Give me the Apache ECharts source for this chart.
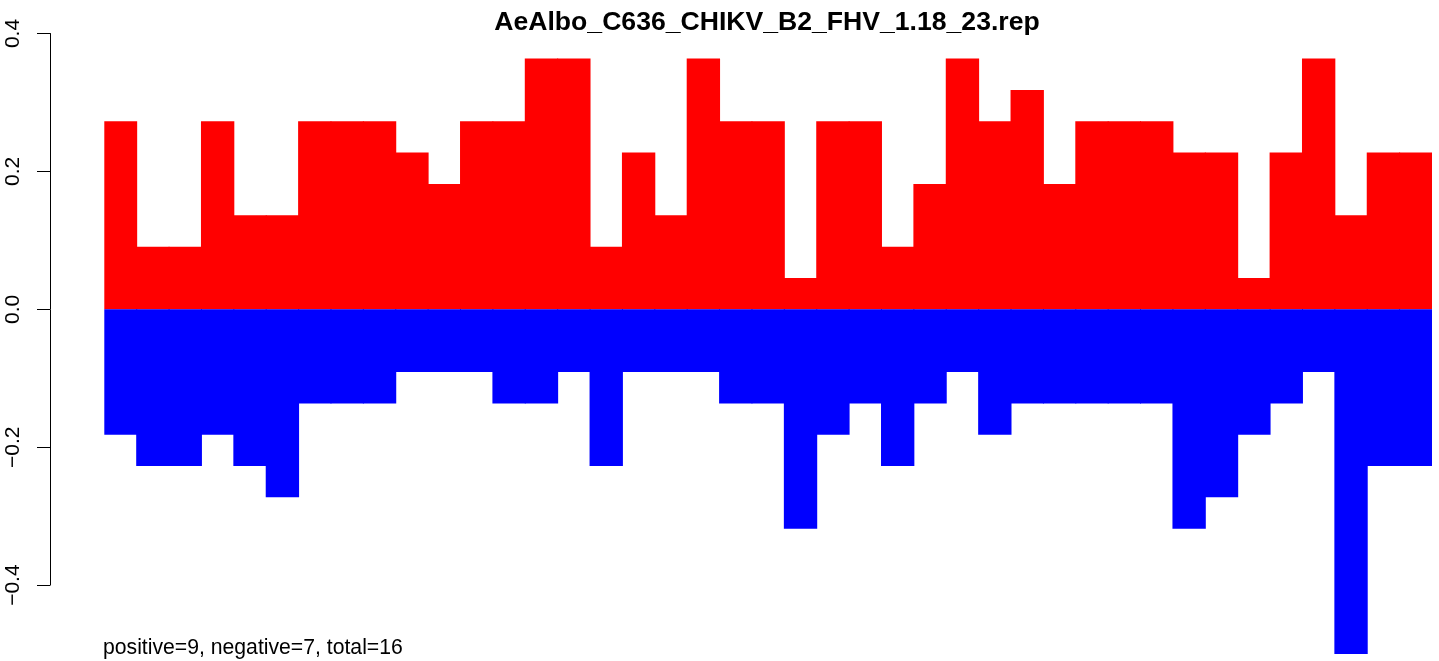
<!DOCTYPE html>
<html>
<head>
<meta charset="utf-8">
<script src="https://cdn.jsdelivr.net/npm/echarts@6/dist/echarts.min.js"></script>
<style>
html,body{margin:0;padding:0;background:#fff;}
#c{width:1439px;height:661px;}
</style>
</head>
<body>
<div id="c"></div>
<script>
const titleText = "AeAlbo_C636_CHIKV_B2_FHV_1.18_23.rep";
const footerText = "positive=9, negative=7, total=16";
const categories = ["1","2","3","4","5","6","7","8","9","10","11","12","13","14","15","16","17","18","19","20","21","22","23","24","25","26","27","28","29","30","31","32","33","34","35","36","37","38","39","40","41"];
const positiveValues = [0.2727,0.0909,0.0909,0.2727,0.1364,0.1364,0.2727,0.2727,0.2727,0.2273,0.1818,0.2727,0.2727,0.3636,0.3636,0.0909,0.2273,0.1364,0.3636,0.2727,0.2727,0.0455,0.2727,0.2727,0.0909,0.1818,0.3636,0.2727,0.3182,0.1818,0.2727,0.2727,0.2727,0.2273,0.2273,0.0455,0.2273,0.3636,0.1364,0.2273,0.2273];
const negativeValues = [-0.1818,-0.2273,-0.2273,-0.1818,-0.2273,-0.2727,-0.1364,-0.1364,-0.1364,-0.0909,-0.0909,-0.0909,-0.1364,-0.1364,-0.0909,-0.2273,-0.0909,-0.0909,-0.0909,-0.1364,-0.1364,-0.3182,-0.1818,-0.1364,-0.2273,-0.1364,-0.0909,-0.1818,-0.1364,-0.1364,-0.1364,-0.1364,-0.1364,-0.3182,-0.2727,-0.1818,-0.1364,-0.0909,-0.5,-0.2273,-0.2273];
const yTicks = [-0.4,-0.2,0.0,0.2,0.4];

const FONT = "'Liberation Sans', Arial, sans-serif";
const chart = echarts.init(document.getElementById('c'));
chart.setOption({
  animation: false,
  backgroundColor: '#ffffff',
  grid: [
    {left: 50, width: 1, top: 33.5, height: 551.6, containLabel: false},
    {left: 104.3, right: 7, top: 33.5, height: 620.6, containLabel: false}
  ],
  xAxis: [
    {gridIndex: 0, type: 'value', show: false},
    {gridIndex: 1, type: 'category', data: categories, show: false}
  ],
  yAxis: [
    {
      gridIndex: 0, type: 'value', min: yTicks[0], max: yTicks[yTicks.length-1], interval: 0.2,
      axisLine: {show: true, lineStyle: {color: '#000', width: 1}},
      axisTick: {show: true, length: 13, lineStyle: {color: '#000', width: 1}},
      splitLine: {show: false},
      axisLabel: {
        show: true, rotate: 90, margin: 26, color: '#000', fontSize: 21, fontFamily: FONT,
        formatter: v => (v < 0 ? '\u2212' : '') + Math.abs(v).toFixed(1)
      }
    },
    {gridIndex: 1, type: 'value', min: -0.5, max: 0.4, show: false, splitLine: {show: false}}
  ],
  series: [
    {
      type: 'bar', xAxisIndex: 1, yAxisIndex: 1, stack: 'all', data: positiveValues,
      barWidth: '103%', barCategoryGap: 0,
      itemStyle: {color: '#FF0000'}, silent: true
    },
    {
      type: 'bar', xAxisIndex: 1, yAxisIndex: 1, stack: 'all', data: negativeValues,
      barWidth: '103%', barCategoryGap: 0,
      itemStyle: {color: '#0000FF'}, silent: true
    }
  ],
  graphic: [
    {type: 'text', x: 767, y: 23, style: {text: titleText, fill: '#000', font: "bold 26.6px " + FONT, textAlign: 'center', textVerticalAlign: 'middle'}},
    {type: 'text', x: 103, y: 648, style: {text: footerText, fill: '#000', font: "21.2px " + FONT, textAlign: 'left', textVerticalAlign: 'middle'}}
  ]
});
</script>
</body>
</html>
